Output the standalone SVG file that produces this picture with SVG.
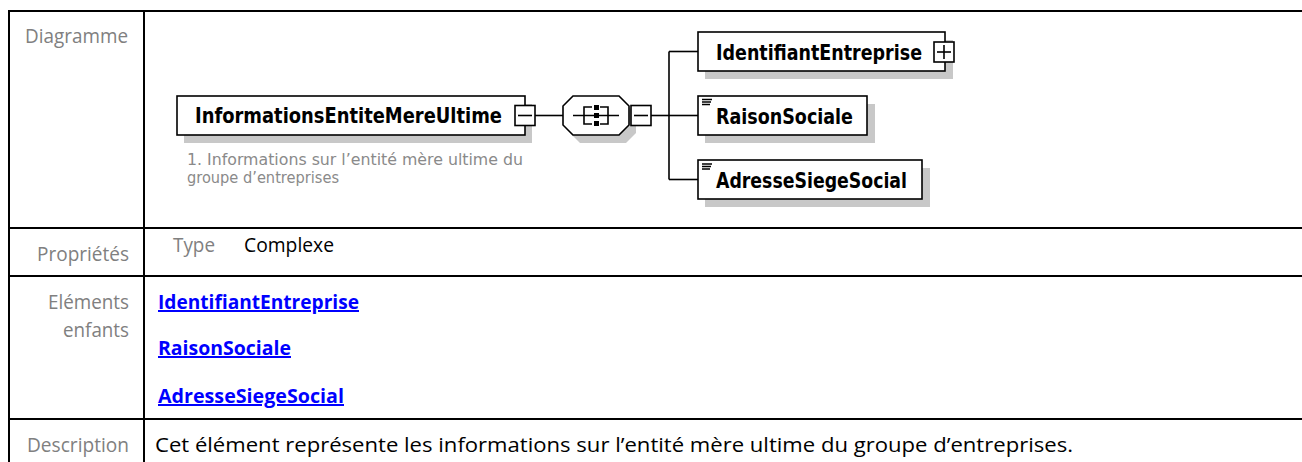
<svg xmlns="http://www.w3.org/2000/svg" width="1302" height="462" viewBox="0 0 1302 462">
<style>
.grid{stroke:#000;stroke-width:2;fill:none}
.lbl{font-family:"Open Sans","Noto Sans","Liberation Sans",sans-serif;font-size:20.5px;fill:#808080}
.val{font-family:"Open Sans","Noto Sans","Liberation Sans",sans-serif;font-size:20.5px;fill:#000}
.lnk{font-family:"Open Sans","Noto Sans","Liberation Sans",sans-serif;font-size:20px;font-weight:bold;fill:#0000ff;text-decoration:underline}
.box{fill:#fff;stroke:#000;stroke-width:1.6}
.shd{fill:#c8c8c8}
.name{font-family:"DejaVu Sans Condensed","DejaVu Sans",sans-serif;font-weight:bold;font-size:20.5px;fill:#000}
.ann{font-family:"DejaVu Sans Condensed","DejaVu Sans",sans-serif;font-size:15px;fill:#8a8a8a}
.sym{stroke:#000;stroke-width:1.6;fill:none}
.conn{stroke:#000;stroke-width:1.6;fill:none}
</style>

<g id="table">
<line class="grid" x1="8" y1="11" x2="1302" y2="11"/>
<line class="grid" x1="9" y1="10" x2="9" y2="462"/>
<line class="grid" x1="144" y1="10" x2="144" y2="462"/>
<line class="grid" x1="8" y1="228" x2="1302" y2="228"/>
<line class="grid" x1="8" y1="276" x2="1302" y2="276"/>
<line class="grid" x1="8" y1="419" x2="1302" y2="419"/>
<text class="lbl" x="25" y="43" textLength="103" lengthAdjust="spacingAndGlyphs">Diagramme</text>
<text class="lbl" x="37" y="261" textLength="92" lengthAdjust="spacingAndGlyphs">Propriétés</text>
<text class="lbl" x="173" y="252" textLength="42" lengthAdjust="spacingAndGlyphs">Type</text>
<text class="val" x="244" y="252" textLength="90" lengthAdjust="spacingAndGlyphs">Complexe</text>
<text class="lbl" x="48" y="309" textLength="81" lengthAdjust="spacingAndGlyphs">Eléments</text>
<text class="lbl" x="63" y="337" textLength="66" lengthAdjust="spacingAndGlyphs">enfants</text>
<text class="lnk" x="158" y="309" textLength="201" lengthAdjust="spacingAndGlyphs">IdentifiantEntreprise</text>
<text class="lnk" x="158" y="355" textLength="133" lengthAdjust="spacingAndGlyphs">RaisonSociale</text>
<text class="lnk" x="158" y="403" textLength="186" lengthAdjust="spacingAndGlyphs">AdresseSiegeSocial</text>
<text class="lbl" x="27" y="452" textLength="102" lengthAdjust="spacingAndGlyphs">Description</text>
<text class="val" x="155" y="452" textLength="918" lengthAdjust="spacingAndGlyphs">Cet élément représente les informations sur l’entité mère ultime du groupe d’entreprises.</text>
</g>

<g id="connectors">
<line class="conn" x1="535" y1="115.5" x2="563" y2="115.5"/>
<line class="conn" x1="651" y1="115.5" x2="669" y2="115.5"/>
<line class="conn" x1="669" y1="51.5" x2="669" y2="179.5"/>
<line class="conn" x1="669" y1="51.5" x2="698" y2="51.5"/>
<line class="conn" x1="669" y1="115.5" x2="698" y2="115.5"/>
<line class="conn" x1="669" y1="179.5" x2="698" y2="179.5"/>
</g>

<g id="node-InformationsEntiteMereUltime">
<rect class="shd" x="184" y="104" width="348" height="39"/>
<rect class="box" x="177" y="96" width="348" height="39"/>
<text class="name" x="195" y="123" textLength="307" lengthAdjust="spacingAndGlyphs">InformationsEntiteMereUltime</text>
<rect class="box" x="515" y="105.5" width="20" height="20"/>
<line class="sym" x1="518" y1="115.5" x2="532" y2="115.5"/>
<text class="ann" x="187" y="165" textLength="336" lengthAdjust="spacingAndGlyphs">1. Informations sur l’entité mère ultime du</text>
<text class="ann" x="187" y="183" textLength="152" lengthAdjust="spacingAndGlyphs">groupe d’entreprises</text>
</g>

<g id="node-sequence">
<polygon class="shd" points="580,104 626,104 636,114 636,133 626,143 580,143 570,133 570,114"/>
<polygon class="box" points="573,96 619,96 629,106 629,125 619,135 573,135 563,125 563,106"/>
<line class="sym" x1="573" y1="115.5" x2="619" y2="115.5"/>
<path class="sym" d="M592,107 H584 V124 H592"/>
<path class="sym" d="M600,107 H608 V124 H600"/>
<rect x="594" y="105" width="5" height="5" fill="#000"/>
<rect x="594" y="113" width="5" height="5" fill="#000"/>
<rect x="594" y="121" width="5" height="5" fill="#000"/>
<rect class="box" x="631" y="105.5" width="20" height="20"/>
<line class="sym" x1="634" y1="115.5" x2="648" y2="115.5"/>
</g>

<g id="node-IdentifiantEntreprise">
<rect class="shd" x="705" y="40" width="248" height="39"/>
<rect class="box" x="698" y="32" width="247" height="39"/>
<text class="name" x="716" y="59.5" textLength="206" lengthAdjust="spacingAndGlyphs">IdentifiantEntreprise</text>
<rect class="box" x="934" y="42" width="20" height="20"/>
<line class="sym" x1="937" y1="52" x2="951" y2="52"/>
<line class="sym" x1="944" y1="45" x2="944" y2="59"/>
</g>

<g id="node-RaisonSociale">
<rect class="shd" x="705" y="104" width="170" height="39"/>
<rect class="box" x="698" y="96" width="169" height="39"/>
<path class="sym" stroke-width="1.2" d="M702,99.5 H712 M702,102 H711 M702,104.5 H710"/>
<text class="name" x="716" y="123.5" textLength="137" lengthAdjust="spacingAndGlyphs">RaisonSociale</text>
</g>

<g id="node-AdresseSiegeSocial">
<rect class="shd" x="705" y="168" width="225" height="39"/>
<rect class="box" x="698" y="160" width="224" height="39"/>
<path class="sym" stroke-width="1.2" d="M702,164 H712 M702,166.5 H711 M702,169 H710"/>
<text class="name" x="716" y="187.5" textLength="191" lengthAdjust="spacingAndGlyphs">AdresseSiegeSocial</text>
</g>
</svg>
